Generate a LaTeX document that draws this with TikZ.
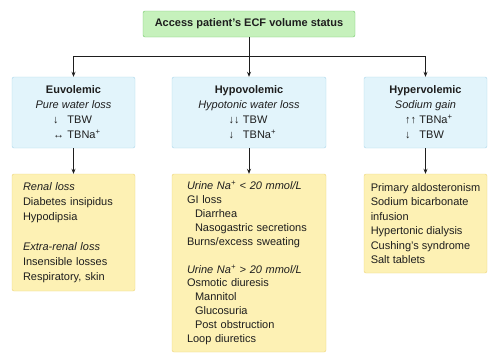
\documentclass[tikz,border=0pt]{standalone}
\usepackage{fontspec}
\setmainfont{Liberation Sans}
\usetikzlibrary{arrows.meta,positioning}
\definecolor{accfill}{RGB}{198,241,188}
\definecolor{accdraw}{RGB}{112,198,104}
\definecolor{statefill}{RGB}{226,244,251}
\definecolor{statedraw}{RGB}{168,214,234}
\definecolor{causefill}{RGB}{253,241,180}
\definecolor{causedraw}{RGB}{236,212,122}
\definecolor{inktext}{RGB}{30,30,30}
\newcommand{\volline}[2]{\makebox[3.7em][l]{\makebox[1.3em][l]{#1}#2}}
\newcommand{\causeindent}{\hspace*{8pt}}
\begin{document}
\begin{tikzpicture}[x=1pt,y=-1pt,>={Stealth[length=5pt,width=4pt]},
 every node/.style={font=\fontsize{11}{15}\selectfont,text=inktext},
 link/.style={->,line width=0.7pt,draw=inktext},
 startbox/.style={draw=accdraw,fill=accfill,rounded corners=2pt,minimum width=212pt,
  minimum height=26pt,font=\fontsize{11}{13}\selectfont\bfseries},
 statebox/.style={draw=statedraw,fill=statefill,rounded corners=2pt,align=center,
  minimum height=71pt},
 causebox/.style={draw=causedraw,fill=causefill,rounded corners=2pt,align=left}]
\useasboundingbox (0,0) rectangle (500,360);
\node[startbox] (access) at (249,24) {Access patient's ECF volume status};
\node[statebox,minimum width=123pt] (euvol) at (73.5,112.5) {\textbf{Euvolemic}\\
 \textit{Pure water loss}\\\volline{↓}{TBW}\\\volline{↔}{TBNa\textsuperscript{+}}};
\node[statebox,minimum width=154pt] (hypovol) at (249,112.5) {\textbf{Hypovolemic}\\
 \textit{Hypotonic water loss}\\\volline{↓↓}{TBW}\\\volline{↓}{TBNa\textsuperscript{+}}};
\node[statebox,minimum width=123pt] (hypervol) at (425.5,112.5) {\textbf{Hypervolemic}\\
 \textit{Sodium gain}\\\volline{↑↑}{TBNa\textsuperscript{+}}\\\volline{↓}{TBW}};
\node[causebox,inner xsep=11pt,text width=101pt,minimum height=117pt] (euvolcause) at (73.5,232.5)
 {\textit{Renal loss}\\Diabetes insipidus\\Hypodipsia\\[15pt]
 \textit{Extra-renal loss}\\Insensible losses\\Respiratory, skin};
\node[causebox,inner xsep=15pt,text width=124pt,minimum height=178pt,
 font=\fontsize{11}{13.9}\selectfont] (hypovolcause) at (249,263)
 {\textit{Urine Na\textsuperscript{+} < 20 mmol/L}\\GI loss\\\causeindent Diarrhea\\
 \causeindent Nasogastric secretions\\Burns/excess sweating\\[13.9pt]
 \textit{Urine Na\textsuperscript{+} > 20 mmol/L}\\Osmotic diuresis\\\causeindent Mannitol\\
 \causeindent Glucosuria\\\causeindent Post obstruction\\Loop diuretics};
\node[causebox,minimum width=123pt,minimum height=99pt,
 font=\fontsize{11}{14.4}\selectfont] (hypervolcause) at (425.5,223.5)
 {Primary aldosteronism\\Sodium bicarbonate\\infusion\\Hypertonic dialysis\\
 Cushing's syndrome\\Salt tablets};
\coordinate (split) at (249,56);
\draw[link] (access) -- (hypovol);
\draw[link] (split) -| (euvol);
\draw[link] (split) -| (hypervol);
\draw[link] (euvol) -- (euvolcause);
\draw[link] (hypovol) -- (hypovolcause);
\draw[link] (hypervol) -- (hypervolcause);
\end{tikzpicture}
\end{document}
